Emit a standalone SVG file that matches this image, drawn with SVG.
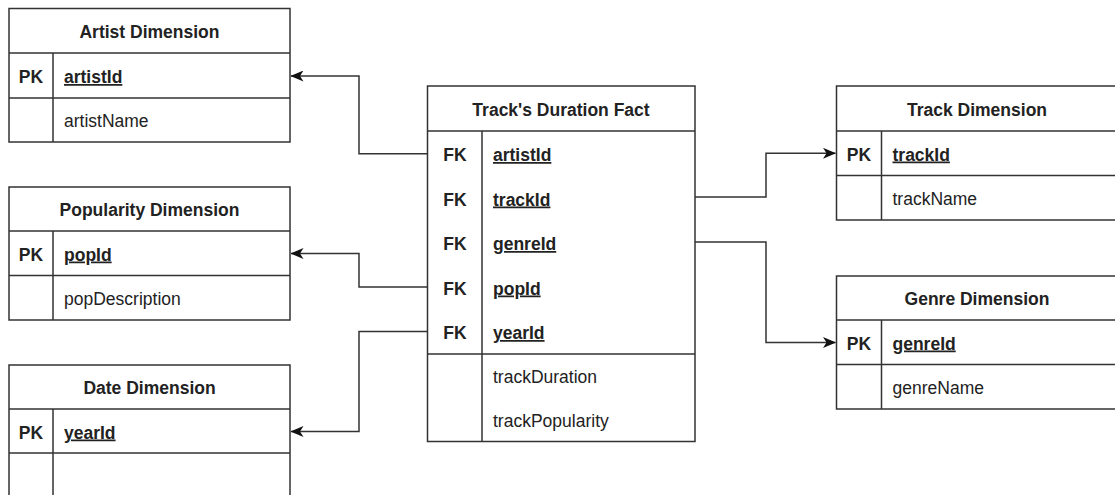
<svg xmlns="http://www.w3.org/2000/svg" width="1115" height="495" viewBox="0 0 1115 495">
<style>
.box{fill:#fff;stroke:#333;stroke-width:1.5}
.ln{stroke:#333;stroke-width:1.5;fill:none}
.t{font-family:"Liberation Sans",Arial,sans-serif;font-size:17.5px;fill:#222}
.title{font-weight:bold;text-anchor:middle}
.k{font-weight:bold;text-anchor:middle}
.key{font-weight:bold;text-decoration:underline}
.conn{stroke:#333;stroke-width:1.5;fill:none}
</style>
<defs>
<marker id="arr" viewBox="0 0 13 11" refX="12.5" refY="5.5" markerWidth="13" markerHeight="11" markerUnits="userSpaceOnUse" orient="auto">
<path d="M0,0 L13,5.5 L0,11 L3.5,5.5 Z" fill="#111"/>
</marker>
</defs>
<rect width="1115" height="495" fill="#fff"/>

<g id="connectors">
<path class="conn" d="M427.5,153.7 H359 V76 H291" marker-end="url(#arr)"/>
<path class="conn" d="M427.5,287 H359 V253.5 H291" marker-end="url(#arr)"/>
<path class="conn" d="M427.5,331.5 H359 V431.5 H291" marker-end="url(#arr)"/>
<path class="conn" d="M695,197 H766 V153.3 H835.5" marker-end="url(#arr)"/>
<path class="conn" d="M695,242 H766 V342.5 H835.5" marker-end="url(#arr)"/>
</g>

<g id="artist-dimension">
<rect class="box" x="9" y="8.5" width="281" height="133.5"/>
<path class="ln" d="M9,53 H290 M9,98 H290 M53,53 V142"/>
<text class="t title" x="149.5" y="38">Artist Dimension</text>
<text class="t k" x="31" y="83">PK</text>
<text class="t key" x="64" y="83">artistId</text>
<text class="t" x="64" y="127">artistName</text>
</g>

<g id="popularity-dimension">
<rect class="box" x="9" y="187" width="281" height="133"/>
<path class="ln" d="M9,231 H290 M9,275.5 H290 M53,231 V320"/>
<text class="t title" x="149.5" y="216">Popularity Dimension</text>
<text class="t k" x="31" y="260.5">PK</text>
<text class="t key" x="64" y="260.5">popId</text>
<text class="t" x="64" y="304.5">popDescription</text>
</g>

<g id="date-dimension">
<rect class="box" x="9" y="365" width="281" height="134"/>
<path class="ln" d="M9,409 H290 M9,453 H290 M53,409 V499"/>
<text class="t title" x="149.5" y="394">Date Dimension</text>
<text class="t k" x="31" y="438.5">PK</text>
<text class="t key" x="64" y="438.5">yearId</text>
</g>

<g id="fact-table">
<rect class="box" x="427.5" y="86" width="267.5" height="355.5"/>
<path class="ln" d="M427.5,131 H695 M427.5,354 H695 M482,131 V441.5"/>
<text class="t title" x="561" y="116">Track's Duration Fact</text>
<text class="t k" x="455" y="161">FK</text>
<text class="t key" x="493" y="161">artistId</text>
<text class="t k" x="455" y="205.5">FK</text>
<text class="t key" x="493" y="205.5">trackId</text>
<text class="t k" x="455" y="250">FK</text>
<text class="t key" x="493" y="250">genreId</text>
<text class="t k" x="455" y="294.5">FK</text>
<text class="t key" x="493" y="294.5">popId</text>
<text class="t k" x="455" y="339">FK</text>
<text class="t key" x="493" y="339">yearId</text>
<text class="t" x="493" y="383">trackDuration</text>
<text class="t" x="493" y="427">trackPopularity</text>
</g>

<g id="track-dimension">
<rect class="box" x="836.5" y="86" width="281" height="134"/>
<path class="ln" d="M836.5,131 H1118 M836.5,175.5 H1118 M881.5,131 V220"/>
<text class="t title" x="977" y="116">Track Dimension</text>
<text class="t k" x="859" y="160.5">PK</text>
<text class="t key" x="892.5" y="160.5">trackId</text>
<text class="t" x="892.5" y="205">trackName</text>
</g>

<g id="genre-dimension">
<rect class="box" x="836.5" y="276" width="281" height="133"/>
<path class="ln" d="M836.5,320 H1118 M836.5,364.5 H1118 M881.5,320 V409"/>
<text class="t title" x="977" y="305">Genre Dimension</text>
<text class="t k" x="859" y="349.5">PK</text>
<text class="t key" x="892.5" y="349.5">genreId</text>
<text class="t" x="892.5" y="394">genreName</text>
</g>
</svg>
